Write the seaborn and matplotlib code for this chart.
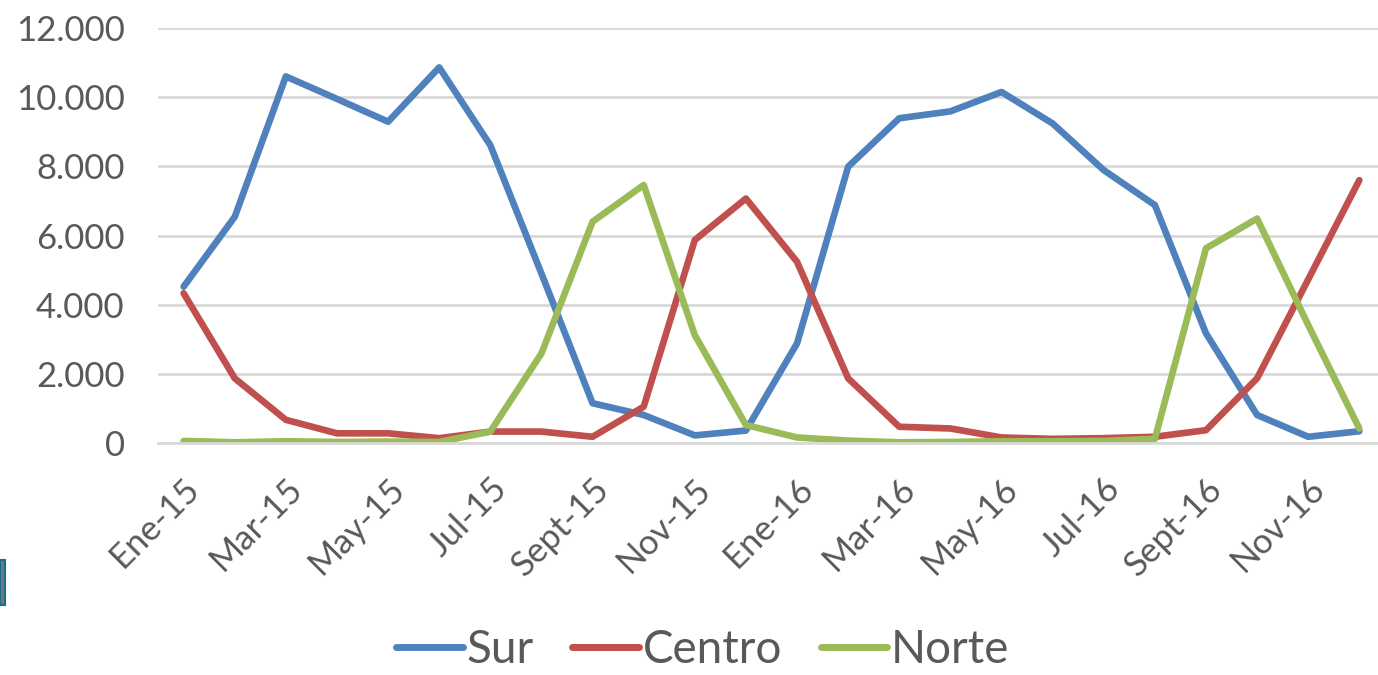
import pandas as pd
import matplotlib.pyplot as plt
import matplotlib.ticker as mticker
from matplotlib.patches import Rectangle
import seaborn as sns

# month labels (Spanish, as in the source chart)
months = ['Ene-15', 'Feb-15', 'Mar-15', 'Abr-15', 'May-15', 'Jun-15',
          'Jul-15', 'Ago-15', 'Sept-15', 'Oct-15', 'Nov-15', 'Dic-15',
          'Ene-16', 'Feb-16', 'Mar-16', 'Abr-16', 'May-16', 'Jun-16',
          'Jul-16', 'Ago-16', 'Sept-16', 'Oct-16', 'Nov-16', 'Dic-16']

sur = [4520, 6540, 10600, 9950, 9290, 10860, 8610, 4900, 1150, 810, 220, 360,
       2880, 7990, 9390, 9590, 10150, 9240, 7890, 6880, 3170, 810, 180, 340]
centro = [4330, 1870, 670, 280, 280, 140, 330, 330, 180, 1050, 5870, 7070,
          5240, 1870, 470, 420, 160, 120, 140, 180, 370, 1870, 4730, 7600]
norte = [60, 20, 50, 30, 40, 30, 330, 2590, 6400, 7460, 3120, 520,
         160, 70, 20, 30, 50, 50, 60, 120, 5630, 6490, 3410, 420]

series_names = ['Sur', 'Centro', 'Norte']
colors = ['#4F81BD', '#C0504D', '#9BBB59']

df = pd.DataFrame({'mes': range(len(months)), 'Sur': sur, 'Centro': centro, 'Norte': norte})
long_df = df.melt(id_vars='mes', var_name='zona', value_name='valor')

sns.set_style('white')
plt.rcParams['font.family'] = ['Lato', 'DejaVu Sans']

fig = plt.figure(figsize=(13.78, 6.75), dpi=100)
ax = fig.add_axes([0.1147, 0.3437, 0.8903, 0.6148])

sns.lineplot(data=long_df, x='mes', y='valor', hue='zona', hue_order=series_names,
             palette=colors, linewidth=4.8, ax=ax, legend=True)
for ln in ax.lines:
    ln.set_solid_capstyle('round')
    ln.set_solid_joinstyle('round')

ax.set_xlim(-0.5, len(months) - 0.5)
ax.set_ylim(0, 12000)
ax.set_yticks(range(0, 12001, 2000))
ax.yaxis.set_major_formatter(mticker.FuncFormatter(lambda v, p: f'{int(v):,}'.replace(',', '.')))
ax.grid(axis='y', color='#D9D9D9', linewidth=2)
ax.set_axisbelow(True)

# category labels every 2 months, tick marks on category boundaries
ax.set_xticks(range(0, len(months), 2))
ax.set_xticklabels(months[::2], rotation=45, ha='right', rotation_mode='anchor')
ax.set_xticks([i - 0.5 for i in range(0, len(months) + 1, 2)], minor=True)
ax.tick_params(axis='x', which='major', length=0, pad=21, labelsize=25, labelcolor='#595959')
ax.tick_params(axis='x', which='minor', length=12, width=2, color='#D9D9D9')
ax.tick_params(axis='y', length=0, pad=24, labelsize=25, labelcolor='#595959')

for s in ['top', 'right', 'left']:
    ax.spines[s].set_visible(False)
ax.spines['bottom'].set_color('#D9D9D9')
ax.spines['bottom'].set_linewidth(2)

ax.set_xlabel('')
ax.set_ylabel('')

leg = ax.legend(loc='center', bbox_to_anchor=(0.444, -0.50), ncol=3, frameon=False,
                fontsize=33, handlelength=1.45, handletextpad=0.08, columnspacing=0.85,
                labelcolor='#595959', borderpad=0)
for h in leg.get_lines():
    h.set_linewidth(5)

# small leftover box at the left edge
fig.patches.append(Rectangle((0, 1 - 605 / 675), 5 / 1378, 45 / 675, transform=fig.transFigure,
                             facecolor='#6E7B80', edgecolor='#1F6B8A', linewidth=1.5))

fig.savefig('out.png', dpi=100)
